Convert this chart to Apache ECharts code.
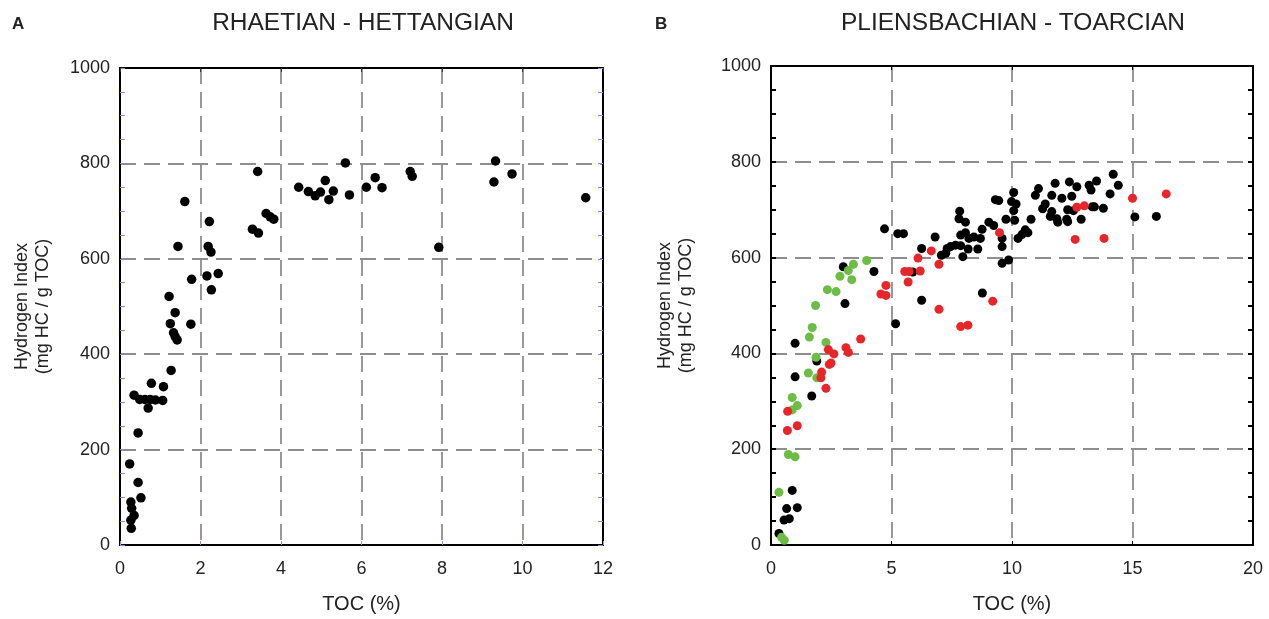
<!DOCTYPE html>
<html><head><meta charset="utf-8">
<script src="https://cdn.jsdelivr.net/npm/echarts@6/dist/echarts.min.js"></script>
<style>html,body{margin:0;padding:0;background:#fff}#c{width:1269px;height:619px}</style>
</head><body><div id="c"></div>
<script>
// Panel A: Rhaetian - Hettangian  [TOC %, HI]
const dataA = [[0.24,170],[0.45,131],[0.52,99],[0.27,90],[0.29,77],[0.35,62],[0.27,52],[0.28,35],[0.45,235],[0.70,287],
[0.35,314],[0.49,305],[0.62,305],[0.75,305],[0.88,304],[1.06,303],[0.78,339],[1.08,332],[1.27,366],[1.33,445],[1.37,437],
[1.42,430],[1.25,464],[1.76,463],[1.37,487],[1.22,521],[1.78,557],[2.16,564],[2.44,569],[2.27,535],[1.44,626],[2.19,626],
[2.26,614],[2.22,678],[1.61,720],[3.42,783],[3.29,662],[3.44,654],[3.63,695],[3.73,688],[3.82,683],[4.44,750],[4.68,741],
[4.85,732],[4.98,740],[5.10,764],[5.19,724],[5.30,742],[5.60,801],[5.70,734],[6.12,750],[6.34,770],[6.51,749],[7.21,783],
[7.26,773],[7.92,624],[9.33,805],[9.29,761],[9.74,778],[11.57,728]];

// Panel B: Pliensbachian - Toarcian
const blackB = [[0.33,24],[0.54,52],[0.76,55],[0.65,76],[1.09,78],[0.88,114],[1.69,311],[1.00,351],[1.90,384],[1.00,421],
[3.07,504],[3.00,581],[4.27,571],[5.17,462],[5.88,570],[6.25,511],[8.77,526],[4.71,660],[5.26,650],[5.50,650],[6.25,619],
[6.81,643],[7.07,605],[7.25,609],[7.31,619],[7.45,623],[7.66,626],[7.87,625],[7.96,602],[7.87,647],[8.07,652],[8.21,640],
[8.18,618],[8.42,643],[8.58,618],[7.83,697],[7.80,681],[8.07,674],[8.76,659],[8.69,640],[9.04,674],[9.24,667],[9.31,721],
[9.45,719],[9.59,640],[9.59,623],[9.75,680],[9.59,588],[9.86,595],[9.98,717],[10.07,736],[10.07,698],[10.11,678],[10.17,712],
[10.25,640],[10.41,648],[10.55,658],[10.66,652],[10.79,680],[11.10,744],[10.97,730],[11.79,755],[11.65,730],[11.38,712],
[11.27,702],[11.65,696],[11.59,686],[11.86,681],[11.90,674],[12.07,724],[12.48,728],[12.38,758],[12.69,748],[12.31,700],
[12.27,680],[12.31,675],[12.55,698],[12.87,680],[13.20,751],[13.28,741],[13.51,760],[13.33,706],[13.42,706],[13.79,703],
[14.07,733],[14.20,774],[14.41,751],[15.10,685],[15.99,686]];
const greenB = [[3.97,594],[3.42,586],[3.21,573],[2.86,561],[3.35,554],[2.34,533],[2.70,529],[1.85,500],[1.71,454],[1.59,434],
[2.28,423],[1.87,392],[1.55,359],[1.90,349],[0.88,308],[1.09,291],[0.88,282],[0.72,189],[1.00,184],[0.33,110],[0.44,16],[0.55,10]];
const redB = [[0.69,279],[1.09,249],[0.68,239],[2.28,327],[2.10,361],[2.07,349],[2.49,380],[2.42,377],[2.38,408],[2.61,399],
[3.11,412],[3.21,402],[3.72,430],[4.56,524],[4.77,521],[4.77,542],[5.55,571],[5.73,571],[5.69,549],[6.19,572],[6.10,599],
[6.65,614],[6.97,586],[6.97,492],[7.87,456],[8.17,459],[9.20,509],[9.48,652],[12.62,638],[12.69,705],[13.0,708],[13.82,640],
[15.0,724],[16.40,733]];

const titles = ['RHAETIAN - HETTANGIAN', 'PLIENSBACHIAN - TOARCIAN'];
const panelLetters = ['A', 'B'];
const xMaxes = [12, 20], xSteps = [2, 5];
const yMax = 1000, yStep = 200;
const xName = 'TOC (%)';
const yName = 'Hydrogen Index\n(mg HC / g TOC)';

const FONT = '"Liberation Sans", Arial, sans-serif';
const TXT = '#222';
const gridDash = {color: '#8e8e8e', width: 1.8, type: [16, 8]};
const frame = {onZero: false, lineStyle: {color: '#000', width: 2}};

function axesFor(i, tickColor) {
  const tw = i ? 2 : 1;
  const x = [
    {gridIndex: i, type: 'value', min: 0, max: xMaxes[i], interval: xSteps[i], name: xName, nameLocation: 'middle', nameGap: 49,
     nameTextStyle: {fontFamily: FONT, fontSize: 20, color: TXT},
     axisLine: frame, axisTick: {show: true, inside: true, length: 4, lineStyle: {color: tickColor, width: 1}},
     axisLabel: {fontFamily: FONT, fontSize: 18, color: TXT, margin: 15}, splitLine: {show: true, lineStyle: gridDash}},
    {gridIndex: i, type: 'value', position: 'top', min: 0, max: xMaxes[i], interval: xSteps[i],
     axisLine: frame, axisTick: {show: true, inside: true, length: 4, lineStyle: {color: i ? '#000' : '#333'}},
     axisLabel: {show: false}, splitLine: {show: false}}
  ];
  const y = [
    {gridIndex: i, type: 'value', min: 0, max: yMax, interval: yStep, name: yName, nameLocation: 'middle', nameGap: i === 0 ? 66 : 74,
     nameTextStyle: {fontFamily: FONT, fontSize: 18, color: TXT, lineHeight: 21},
     axisLine: frame, axisTick: {show: true, inside: true, length: 5, lineStyle: {color: tickColor, width: tw}},
     minorTick: {show: true, splitNumber: 4, length: 5, lineStyle: {color: tickColor, width: tw}},
     axisLabel: {fontFamily: FONT, fontSize: 18, color: TXT, margin: 10, formatter: v => String(v)},
     splitLine: {show: true, lineStyle: gridDash}},
    {gridIndex: i, type: 'value', position: 'right', min: 0, max: yMax, interval: yStep,
     axisLine: frame, axisTick: {show: true, inside: true, length: 5, lineStyle: {color: tickColor, width: tw}},
     minorTick: {show: true, splitNumber: 4, length: 5, lineStyle: {color: tickColor, width: tw}},
     axisLabel: {show: false}, splitLine: {show: false}}
  ];
  return {x, y};
}
const aA = axesFor(0, '#8c8cd8');
const aB = axesFor(1, '#000');
const dot = c => ({color: c, opacity: 1});

const option = {
  animation: false,
  backgroundColor: '#fff',
  title: [
    {text: titles[0], left: 358, top: 6, textAlign: 'center', textStyle: {fontFamily: FONT, fontSize: 24.5, fontWeight: 'normal', color: TXT}},
    {text: titles[1], left: 1008, top: 6, textAlign: 'center', textStyle: {fontFamily: FONT, fontSize: 24.5, fontWeight: 'normal', color: TXT}},
    {text: panelLetters[0], left: 7, top: 11, textStyle: {fontFamily: FONT, fontSize: 17, fontWeight: 'bold', color: TXT}},
    {text: panelLetters[1], left: 650, top: 11, textStyle: {fontFamily: FONT, fontSize: 17, fontWeight: 'bold', color: TXT}}
  ],
  grid: [
    {left: 120, right: 666, top: 68, bottom: 68, containLabel: false},
    {left: 771, right: 16, top: 66, bottom: 68, containLabel: false}
  ],
  xAxis: [...aA.x, ...aB.x],
  yAxis: [...aA.y, ...aB.y],
  series: [
    {type: 'scatter', xAxisIndex: 0, yAxisIndex: 0, data: dataA, symbolSize: 9.5, itemStyle: dot('#000')},
    {type: 'scatter', xAxisIndex: 2, yAxisIndex: 2, data: blackB, symbolSize: 9, itemStyle: dot('#000')},
    {type: 'scatter', xAxisIndex: 2, yAxisIndex: 2, data: greenB, symbolSize: 9, itemStyle: dot('#6cbd45')},
    {type: 'scatter', xAxisIndex: 2, yAxisIndex: 2, data: redB, symbolSize: 9, itemStyle: dot('#e8262a')}
  ]
};
const chart = echarts.init(document.getElementById('c'), null, {renderer: 'canvas'});
chart.setOption(option);
</script></body></html>
